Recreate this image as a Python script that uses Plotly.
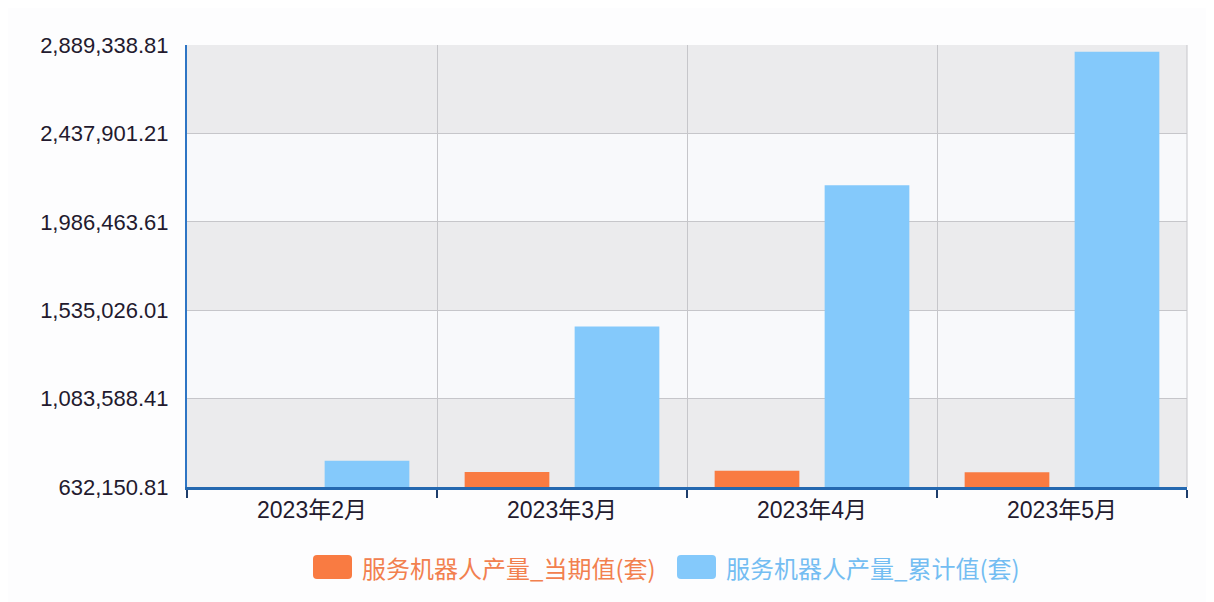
import plotly.graph_objects as go

# data
months = ['2023年2月', '2023年3月', '2023年4月', '2023年5月']
current_value = [None, 708500, 715100, 707000]          # 当期值(套)
cumulative_value = [766000, 1451800, 2173200, 2855400]  # 累计值(套)
y_ticks = [632150.81, 1083588.41, 1535026.01, 1986463.61, 2437901.21, 2889338.81]
y_tick_labels = ['632,150.81', '1,083,588.41', '1,535,026.01',
                 '1,986,463.61', '2,437,901.21', '2,889,338.81']
series_names = ['服务机器人产量_当期值(套)', '服务机器人产量_累计值(套)']

ORANGE = '#f97b42'
BLUE = '#84c9fb'
Y_FONT = dict(family='Liberation Sans, Noto Sans CJK SC', size=22, color='#231a2e')
X_FONT = dict(family='Liberation Sans, Noto Sans CJK SC', size=23, color='#231a2e')


def rounded_box(x0, y0, x1, y1, rx=0.004, ry=0.009):
    """SVG path for a small rounded rectangle in paper coordinates."""
    return (f'M{x0 + rx},{y0} L{x1 - rx},{y0} Q{x1},{y0} {x1},{y0 - ry} '
            f'L{x1},{y1 + ry} Q{x1},{y1} {x1 - rx},{y1} '
            f'L{x0 + rx},{y1} Q{x0},{y1} {x0},{y1 + ry} '
            f'L{x0},{y0 - ry} Q{x0},{y0} {x0 + rx},{y0} Z')


fig = go.Figure()
fig.add_trace(go.Bar(x=months, y=current_value, name=series_names[0],
                     marker=dict(color=ORANGE, line=dict(width=0))))
fig.add_trace(go.Bar(x=months, y=cumulative_value, name=series_names[1],
                     marker=dict(color=BLUE, line=dict(width=0))))

# alternating grey bands between gridlines
shapes = []
for i in range(0, len(y_ticks) - 1, 2):
    shapes.append(dict(type='rect', xref='x domain', yref='y', layer='below',
                       x0=0, x1=1, y0=y_ticks[i], y1=y_ticks[i + 1],
                       fillcolor='#ebebed', line=dict(width=0)))
# right border of the plot area
shapes.append(dict(type='line', xref='x domain', yref='y domain', x0=1, x1=1, y0=0, y1=1,
                   line=dict(color='#c6c6ca', width=1)))

# hand-drawn legend (rounded swatches with coloured text)
legend_colors = [ORANGE, BLUE]
legend_text_colors = ['#f2804f', '#74bdf2']
legend_x = [0.126, 0.490]
annotations = []
for name, color, tcolor, lx in zip(series_names, legend_colors, legend_text_colors, legend_x):
    shapes.append(dict(type='path', xref='paper', yref='paper',
                       path=rounded_box(lx, -0.154, lx + 0.039, -0.208),
                       fillcolor=color, line=dict(width=0)))
    annotations.append(dict(xref='paper', yref='paper', x=lx + 0.047, y=-0.181,
                            xanchor='left', yanchor='middle', showarrow=False,
                            text=name,
                            font=dict(family='Noto Sans CJK SC', size=24, color=tcolor)))

fig.update_layout(
    width=1214, height=602,
    margin=dict(l=179, r=35, t=37, b=123),
    paper_bgcolor='#fdfdfe',
    plot_bgcolor='#f8f9fb',
    barmode='group',
    bargap=0.12,
    bargroupgap=0.23,
    showlegend=False,
    shapes=shapes,
    annotations=annotations,
)
fig.update_xaxes(
    type='category',
    showline=True, linecolor='#2468b0', linewidth=3,
    ticks='outside', tickson='boundaries', ticklen=8, tickwidth=2, tickcolor='#1d3d6b',
    showgrid=True, gridcolor='#c6c6ca', gridwidth=1,
    tickfont=X_FONT,
)
fig.update_yaxes(
    range=[y_ticks[0], y_ticks[-1]],
    tickvals=y_ticks, ticktext=y_tick_labels,
    showline=True, linecolor='#2e75c4', linewidth=2,
    showgrid=True, gridcolor='#c6c6ca', gridwidth=1,
    zeroline=False,
    ticks='', ticklabelstandoff=12,
    tickfont=Y_FONT,
)

fig.write_html('out.html')
